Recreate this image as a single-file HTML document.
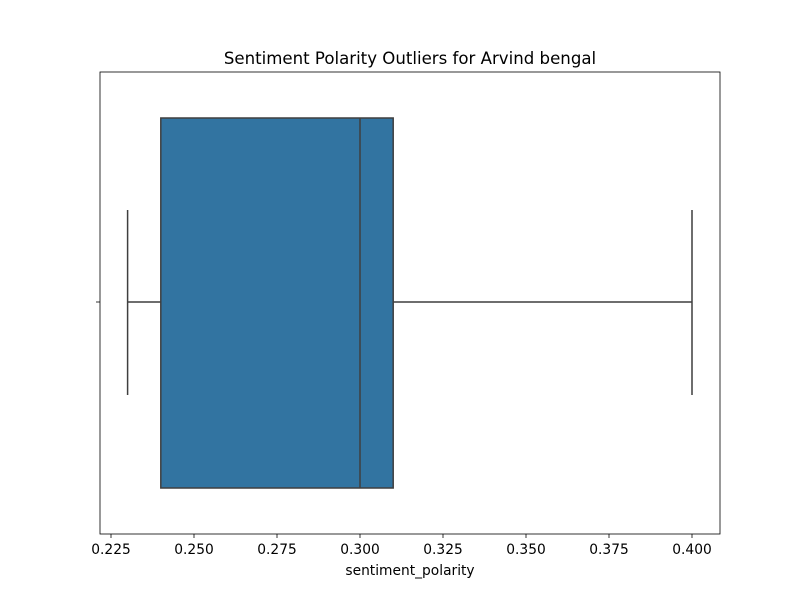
<!DOCTYPE html>
<html><head><meta charset="utf-8"><style>
body{margin:0;background:#fff;font-family:"DejaVu Sans","Liberation Sans",sans-serif}
</style></head><body>
<svg width="800" height="600" xmlns="http://www.w3.org/2000/svg" id="svg">
<rect width="800" height="600" fill="#fff"/>
<text x="410" y="64" font-size="16.6" text-anchor="middle">Sentiment Polarity Outliers for Arvind bengal</text>
<text x="410" y="575" font-size="13.8" text-anchor="middle">sentiment_polarity</text>
<g id="plot"></g>
</svg>
<script>
const tickValues=[0.225,0.25,0.275,0.3,0.325,0.35,0.375,0.4];
const tickLabels=["0.225","0.250","0.275","0.300","0.325","0.350","0.375","0.400"];
const whiskerLow=[0.23];
const q1=[0.24];
const median=[0.30];
const q3=[0.31];
const whiskerHigh=[0.40];
const L=100,R=720,T=72,B=534;
const x0=0.3-260/3320,x1=0.3+360/3320;
const sx=v=>L+(v-x0)/(x1-x0)*(R-L);
const g=document.getElementById('plot');
const NS='http://www.w3.org/2000/svg';
function el(tag,attrs,name){const e=document.createElementNS(NS,tag);for(const k in attrs)e.setAttribute(k,attrs[k]);


g.appendChild(e);return e;}
const cy=302,bt=118,bb=488,ct=210,cb=395,c='#3f3f3f';
el('rect',{x:sx(q1[0]),y:bt,width:sx(q3[0])-sx(q1[0]),height:bb-bt,fill:'#3274a1',stroke:c,'stroke-width':1.5},'box');
el('line',{x1:sx(median[0]),x2:sx(median[0]),y1:bt,y2:bb,stroke:c,'stroke-width':1.5},'median-line');
el('line',{x1:sx(whiskerLow[0]),x2:sx(q1[0]),y1:cy,y2:cy,stroke:c,'stroke-width':1.5},'lower-whisker');
el('line',{x1:sx(q3[0]),x2:sx(whiskerHigh[0]),y1:cy,y2:cy,stroke:c,'stroke-width':1.5},'upper-whisker');
el('line',{x1:sx(whiskerLow[0]),x2:sx(whiskerLow[0]),y1:ct,y2:cb,stroke:c,'stroke-width':1.5},'lower-cap');
el('line',{x1:sx(whiskerHigh[0]),x2:sx(whiskerHigh[0]),y1:ct,y2:cb,stroke:c,'stroke-width':1.5},'upper-cap');
el('rect',{x:L,y:T,width:R-L,height:B-T,fill:'none',stroke:'#000','stroke-width':0.8},'plot-frame');
el('line',{x1:L-4,x2:L,y1:cy,y2:cy,stroke:'#000','stroke-width':0.8},'y-tick');
tickValues.forEach((v,i)=>{
  el('line',{x1:sx(v),x2:sx(v),y1:B,y2:B+4,stroke:'#000','stroke-width':0.8},'x-tick');
  const t=el('text',{x:sx(v),y:B+20,'font-size':13.8,'text-anchor':'middle'},'x-tick-label');
  t.textContent=tickLabels[i];
});
</script>
</body></html>
